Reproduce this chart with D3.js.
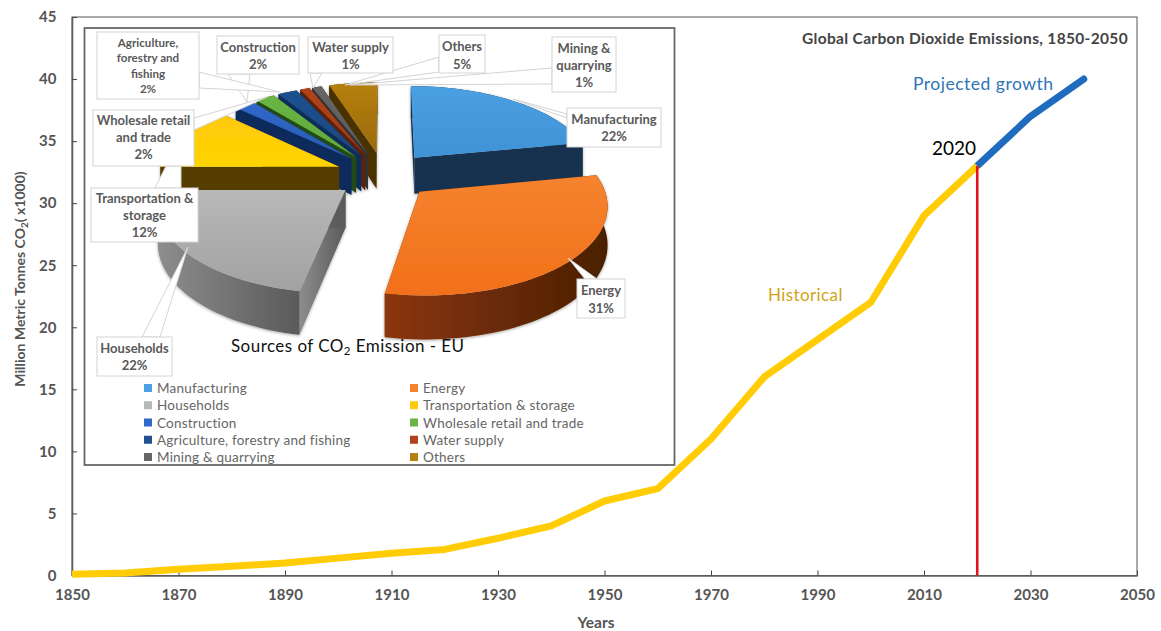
<!DOCTYPE html>
<html>
<head>
<meta charset="utf-8">
<script src="https://cdn.jsdelivr.net/npm/d3@7"></script>
<style>
  html, body { margin: 0; padding: 0; background: #fff; }
  svg { display: block; font-family: Lato, "Open Sans", sans-serif; }
</style>
</head>
<body>
<svg id="chart" width="1161" height="631"></svg>
<script>
// Global emissions, millions of tonnes x1000
const historicalYears = [1850, 1860, 1870, 1880, 1890, 1900, 1910, 1920, 1930, 1940, 1950, 1960, 1970, 1980, 1990, 2000, 2010, 2020];
const historicalValues = [0.1, 0.2, 0.5, 0.75, 1, 1.4, 1.8, 2.1, 3, 4, 6, 7, 11, 16, 19, 22, 29, 33];
const projectedYears = [2020, 2030, 2040];
const projectedValues = [33, 37, 40];
const xTickValues = d3.range(1850, 2051, 20);
const yTickValues = d3.range(0, 46, 5);

// EU emission sources, clockwise from twelve o'clock, in percent
const sourceNames = ["Manufacturing", "Energy", "Households", "Transportation & storage", "Construction",
  "Wholesale retail and trade", "Agriculture, forestry and fishing", "Water supply", "Mining & quarrying", "Others"];
const sourceShares = [22, 31, 22, 12, 2, 2, 2, 1, 1, 5];
const sourceTop = ["#4aa0e2", "#f5832e", "#b8b8b8", "#ffc90c", "#2f68c9", "#69b544", "#1d518f", "#b0431a", "#666666", "#b5800f"];
const sourceTopEnd = ["#3f92d6", "#f2701a", "#a2a2a2", "#ffd400", "#2a5cb5", "#5fa83c", "#1a4880", "#a03a15", "#5c5c5c", "#9a6a08"];
const sourceWall = ["#15304f", "#8a3609", "#8d8d8d", "#553e02", "#11295c", "#234a18", "#102f58", "#5a210a", "#333333", "#4a3004"];
const sourceWallEnd = ["#15304f", "#4a1f05", "#5a5a5a", "#553e02", "#11295c", "#234a18", "#102f58", "#5a210a", "#333333", "#4a3004"];

const svg = d3.select("#chart");
const axisGrey = "#5f5f5f", labelGrey = "#555555";

// ---------- main line chart ----------
const plot = { left: 72, right: 1137, top: 17, bottom: 575.5 };
const x = d3.scaleLinear().domain([1850, 2050]).range([plot.left, plot.right]);
const y = d3.scaleLinear().domain([0, 45]).range([plot.bottom, plot.top]);

svg.append("rect")
  .attr("x", plot.left).attr("y", plot.top)
  .attr("width", plot.right - plot.left).attr("height", plot.bottom - plot.top)
  .attr("fill", "#fff").attr("stroke", "#555").attr("stroke-width", 1);

const xAxis = svg.append("g").attr("transform", `translate(0,${plot.bottom})`)
  .call(d3.axisBottom(x).tickValues(xTickValues).tickFormat(d3.format("d")).tickSizeInner(-5).tickSizeOuter(0).tickPadding(14));
const yAxis = svg.append("g").attr("transform", `translate(${plot.left},0)`)
  .call(d3.axisLeft(y).tickValues(yTickValues).tickSizeInner(-5).tickSizeOuter(0).tickPadding(15.5));
[xAxis, yAxis].forEach(axis => {
  axis.select(".domain").attr("stroke", axisGrey).attr("stroke-width", 1.6);
  axis.selectAll(".tick line").attr("stroke", "#444");
  axis.selectAll("text").attr("fill", labelGrey).attr("font-size", 15).attr("font-weight", 700)
    .attr("font-family", "Lato, sans-serif");
});

const line = d3.line().x(d => x(d[0])).y(d => y(d[1]));
svg.append("path").datum(d3.zip(projectedYears, projectedValues))
  .attr("d", line).attr("fill", "none").attr("stroke", "#1f6cbe").attr("stroke-width", 7)
  .attr("stroke-linecap", "round").attr("stroke-linejoin", "round");
svg.append("path").datum(d3.zip(historicalYears, historicalValues))
  .attr("d", line).attr("fill", "none").attr("stroke", "#ffcc05").attr("stroke-width", 7)
  .attr("stroke-linejoin", "round");
svg.append("line")
  .attr("x1", x(2020)).attr("x2", x(2020)).attr("y1", y(33)).attr("y2", y(0))
  .attr("stroke", "#e2131c").attr("stroke-width", 2.6);

const text = (str, px, py, size, fill, opts = {}) => svg.append("text")
  .attr("x", px).attr("y", py).attr("font-size", size).attr("fill", fill)
  .attr("font-weight", opts.weight || 400).attr("text-anchor", opts.anchor || "start")
  .attr("letter-spacing", opts.spacing || null).text(str);

text("Global Carbon Dioxide Emissions, 1850-2050", 1128, 44, 15.5, "#444", { weight: 700, anchor: "end", spacing: 0.33 });
text("Projected growth", 913, 90, 17.5, "#2e75b6", { spacing: 0.5 });
text("2020", 932, 155, 19, "#000");
text("Historical", 768, 301, 17, "#d0a318", { spacing: 0.4 });
text("Years", 596, 628, 15.5, labelGrey, { weight: 700, anchor: "middle" });

const yTitle = svg.append("text").attr("transform", "translate(25,279) rotate(-90)")
  .attr("text-anchor", "middle").attr("font-size", 14).attr("font-weight", 700).attr("fill", labelGrey);
yTitle.append("tspan").text("Million Metric Tonnes CO");
yTitle.append("tspan").attr("font-size", 10).attr("dy", 3).text("2");
yTitle.append("tspan").attr("dy", -3).text("( x1000)");

// ---------- inset exploded pie ----------
svg.append("rect").attr("x", 84.5).attr("y", 28).attr("width", 590).attr("height", 437)
  .attr("fill", "#fff").attr("stroke", "#666").attr("stroke-width", 1.8);

// Perspective model: the unit pie plane is tilted towards the viewer
const pieCenter = [384, 175], spreadX = 181, spreadY = 85.3, tilt = 0.132;
const explode = 0.27, wallHeight = 37;
const project = (X, Y) => {
  const s = 1 / (1 - tilt * Y);
  return [pieCenter[0] + spreadX * X * s, pieCenter[1] + spreadY * Y * s, s];
};

const slices = d3.pie().sort(null).value(d => d)(sourceShares).map((arc, i) => {
  const mid = (arc.startAngle + arc.endAngle) / 2;
  const ax = explode * Math.sin(mid), ay = -explode * Math.cos(mid);
  const steps = d3.range(arc.startAngle, arc.endAngle, Math.PI / 90).concat(arc.endAngle);
  const rim = steps.map(a => project(ax + Math.sin(a), ay - Math.cos(a)));
  return { i, apex: project(ax, ay), apexY: ay, rim };
});

const defs = svg.append("defs");
const gradient = (id, x2, y2, c0, c1) => {
  const g = defs.append("linearGradient").attr("id", id)
    .attr("x1", 0).attr("y1", 0).attr("x2", x2).attr("y2", y2);
  g.append("stop").attr("offset", 0).attr("stop-color", c0);
  g.append("stop").attr("offset", 1).attr("stop-color", c1);
};
sourceNames.forEach((_, i) => {
  gradient(`top${i}`, 0, 1, sourceTop[i], sourceTopEnd[i]);
  gradient(`wall${i}`, 1, 0, sourceWall[i], sourceWallEnd[i]);
});
const shadow = defs.append("filter").attr("id", "soft")
  .attr("x", "-10%").attr("y", "-10%").attr("width", "120%").attr("height", "125%");
shadow.append("feDropShadow").attr("dx", 0).attr("dy", 1).attr("stdDeviation", 1.5)
  .attr("flood-color", "#000").attr("flood-opacity", 0.35);

const polyPath = d3.line().x(p => p[0]).y(p => p[1]).curve(d3.curveLinearClosed);
const dropped = p => [p[0], p[1] + wallHeight * p[2], p[2]];
const pieGroup = svg.append("g").attr("filter", "url(#soft)");

// Paint from the back of the tilted plane to the front
slices.slice().sort((a, b) => a.apexY - b.apexY).forEach(s => {
  const g = pieGroup.append("g");
  const first = s.rim[0], last = s.rim[s.rim.length - 1];
  const quads = [
    [s.apex, first, dropped(first), dropped(s.apex)],
    [s.apex, last, dropped(last), dropped(s.apex)],
    s.rim.concat(s.rim.slice().reverse().map(dropped))
  ];
  quads.forEach(q => g.append("path").attr("d", polyPath(q)).attr("fill", `url(#wall${s.i})`));
  g.append("path").attr("d", polyPath([s.apex, ...s.rim])).attr("fill", `url(#top${s.i})`);
});

// Call-outs: white boxes with a wedge pointing at the slice
const callouts = [
  { lines: ["Manufacturing", "22%"], box: [567, 108, 94, 39], wedge: [[567, 114], [513, 99], [567, 118]], size: 13, first: 124, step: 17 },
  { lines: ["Energy", "31%"], box: [577, 279, 48, 39], wedge: [[585, 279], [568, 258], [597, 279]], size: 13, first: 295, step: 18 },
  { lines: ["Households", "22%"], box: [97, 337, 75, 39], wedge: [[142, 337], [188, 247], [160, 337]], size: 13, first: 353, step: 17 },
  { lines: ["Mining &", "quarrying", "1%"], box: [552, 37, 64, 55], wedge: [[552, 68], [350, 85], [552, 84]], size: 13, first: 53, step: 17 },
  { lines: ["Others", "5%"], box: [439, 35, 46, 38], wedge: [[439, 57], [345, 85], [439, 72]], size: 13, first: 51, step: 18 },
  { lines: ["Water supply", "1%"], box: [308, 37, 85, 36], wedge: [[310, 73], [313, 88], [322, 73]], size: 13, first: 52, step: 17 },
  { lines: ["Construction", "2%"], box: [217, 36, 82, 38], wedge: [[228, 74], [247, 102], [250, 74]], size: 13, first: 52, step: 17 },
  { lines: ["Agriculture,", "forestry and", "fishing", "2%"], box: [97, 32, 102, 67], wedge: [[199, 72], [280, 92], [199, 88]], size: 11.6, first: 47, step: 15.3 },
  { lines: ["Wholesale retail", "and trade", "2%"], box: [93, 110, 101, 56], wedge: [[194, 118], [267, 97], [194, 130]], size: 13, first: 125, step: 17 },
  { lines: ["Transportation &", "storage", "12%"], box: [91, 188, 107, 54], wedge: [[155, 188], [166, 166], [181, 166], [181, 188]], size: 13, first: 203, step: 17 }
];
const calloutGroup = svg.append("g");
callouts.forEach(c => {
  calloutGroup.append("path").attr("d", polyPath(c.wedge)).attr("fill", "#fff").attr("stroke", "#d4d4d4");
});
callouts.forEach(c => {
  const [bx, by, bw, bh] = c.box;
  calloutGroup.append("rect").attr("x", bx).attr("y", by).attr("width", bw).attr("height", bh)
    .attr("fill", "#fff").attr("stroke", "#d4d4d4");
  c.lines.forEach((t, i) => calloutGroup.append("text")
    .attr("x", bx + bw / 2).attr("y", c.first + i * c.step)
    .attr("text-anchor", "middle").attr("font-size", c.size).attr("font-weight", 700)
    .attr("fill", "#595959").text(t));
});

// Inset title
const pieTitle = svg.append("text").attr("x", 231).attr("y", 352)
  .attr("font-size", 17).attr("fill", "#111").attr("letter-spacing", 0.45);
pieTitle.append("tspan").text("Sources of CO");
pieTitle.append("tspan").attr("font-size", 11.5).attr("dy", 3).text("2");
pieTitle.append("tspan").attr("dy", -3).text(" Emission - EU");

// Inset legend, two columns filled row by row
const legendX = d3.scalePoint().domain([0, 1]).range([144, 410]);
const legendY = d3.scalePoint().domain([0, 1, 2, 3, 4]).range([388, 457]);
const legend = svg.append("g").selectAll("g").data(sourceNames).join("g")
  .attr("transform", (_, i) => `translate(${legendX(i % 2)},${legendY(Math.floor(i / 2))})`);
legend.append("rect").attr("x", 0).attr("y", -4).attr("width", 8).attr("height", 8)
  .attr("fill", (_, i) => sourceTop[i]);
legend.append("text").attr("x", 13).attr("y", 5).attr("font-size", 13.5)
  .attr("fill", "#666").attr("letter-spacing", 0.22).text(d => d);
</script>
</body>
</html>
